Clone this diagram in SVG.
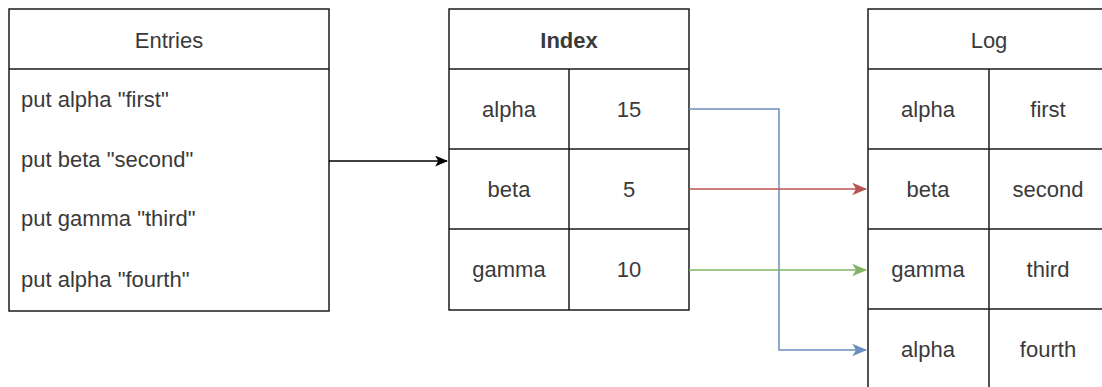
<svg xmlns="http://www.w3.org/2000/svg" width="1102" height="387" viewBox="0 0 1102 387">
  <style>
    .box { fill: #ffffff; stroke: #1a1a1a; stroke-width: 1.5; }
    .div { stroke: #1a1a1a; stroke-width: 1.5; fill: none; }
    .t { font-family: "Liberation Sans", Arial, sans-serif; font-size: 22px; fill: #3a3a3a; }
    .c { text-anchor: middle; }
    .b { font-weight: bold; }
    .edge { fill: none; stroke-width: 1.5; }
  </style>
  <defs>
    <marker id="arrBlack" viewBox="0 0 12 10" refX="11" refY="5" markerWidth="13" markerHeight="11" markerUnits="userSpaceOnUse" orient="auto">
      <path d="M0,0 L12,5 L0,10 L3,5 Z" fill="#000000"/>
    </marker>
    <marker id="arrRed" viewBox="0 0 12 10" refX="11" refY="5" markerWidth="15" markerHeight="13" markerUnits="userSpaceOnUse" orient="auto">
      <path d="M0,0 L12,5 L0,10 L3,5 Z" fill="#b85450"/>
    </marker>
    <marker id="arrGreen" viewBox="0 0 12 10" refX="11" refY="5" markerWidth="15" markerHeight="13" markerUnits="userSpaceOnUse" orient="auto">
      <path d="M0,0 L12,5 L0,10 L3,5 Z" fill="#82b366"/>
    </marker>
    <marker id="arrBlue" viewBox="0 0 12 10" refX="11" refY="5" markerWidth="15" markerHeight="13" markerUnits="userSpaceOnUse" orient="auto">
      <path d="M0,0 L12,5 L0,10 L3,5 Z" fill="#6c8ebf"/>
    </marker>
  </defs>
  <rect width="1102" height="387" fill="#ffffff"/>

  <!-- Entries list -->
  <g id="entries">
    <rect class="box" x="9" y="9" width="320" height="302"/>
    <line class="div" x1="9" y1="69" x2="329" y2="69"/>
    <text class="t c" x="169" y="48">Entries</text>
    <text class="t" x="21" y="107">put alpha "first"</text>
    <text class="t" x="21" y="167">put beta "second"</text>
    <text class="t" x="21" y="226">put gamma "third"</text>
    <text class="t" x="21" y="287">put alpha "fourth"</text>
  </g>

  <!-- Index table -->
  <g id="index">
    <rect class="box" x="449" y="9" width="240" height="301"/>
    <line class="div" x1="449" y1="69" x2="689" y2="69"/>
    <line class="div" x1="449" y1="149" x2="689" y2="149"/>
    <line class="div" x1="449" y1="229" x2="689" y2="229"/>
    <line class="div" x1="569" y1="69" x2="569" y2="310"/>
    <text class="t c b" x="569" y="48">Index</text>
    <text class="t c" x="509" y="117">alpha</text>
    <text class="t c" x="629" y="117">15</text>
    <text class="t c" x="509" y="197">beta</text>
    <text class="t c" x="629" y="197">5</text>
    <text class="t c" x="509" y="277">gamma</text>
    <text class="t c" x="629" y="277">10</text>
  </g>

  <!-- Log table -->
  <g id="log">
    <rect class="box" x="868" y="9" width="242" height="390"/>
    <line class="div" x1="868" y1="69" x2="1110" y2="69"/>
    <line class="div" x1="868" y1="149" x2="1110" y2="149"/>
    <line class="div" x1="868" y1="229" x2="1110" y2="229"/>
    <line class="div" x1="868" y1="309" x2="1110" y2="309"/>
    <line class="div" x1="989" y1="69" x2="989" y2="399"/>
    <text class="t c" x="989" y="48">Log</text>
    <text class="t c" x="928" y="117">alpha</text>
    <text class="t c" x="1048" y="117">first</text>
    <text class="t c" x="928" y="197">beta</text>
    <text class="t c" x="1048" y="197">second</text>
    <text class="t c" x="928" y="277">gamma</text>
    <text class="t c" x="1048" y="277">third</text>
    <text class="t c" x="928" y="357">alpha</text>
    <text class="t c" x="1048" y="357">fourth</text>
  </g>

  <!-- Connectors -->
  <g id="connectors">
    <path class="edge" d="M329,161 L447,161" stroke="#000000" marker-end="url(#arrBlack)"/>
    <path class="edge" d="M689,109 L779,109 L779,350 L866,350" stroke="#6c8ebf" marker-end="url(#arrBlue)"/>
    <path class="edge" d="M689,189 L866,189" stroke="#b85450" marker-end="url(#arrRed)"/>
    <path class="edge" d="M689,270 L866,270" stroke="#82b366" marker-end="url(#arrGreen)"/>
  </g>
</svg>
